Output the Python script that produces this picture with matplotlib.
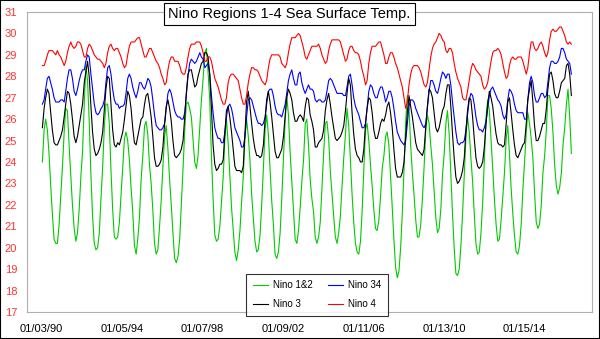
import pandas as pd
import matplotlib
matplotlib.use("Agg")
import matplotlib.pyplot as plt
from matplotlib.patches import Rectangle

plt.rcParams['font.family'] = ['Liberation Sans', 'DejaVu Sans']

# monthly values, Jan 1990 .. May 2016
nino12 = [
    24.0, 25.5, 26.0, 25.5, 24.4, 22.9, 21.6, 20.4, 20.2, 20.2, 21.1, 22.4,
    23.8, 25.4, 26.5, 26.4, 24.8, 23.4, 22.0, 20.9, 20.3, 20.7, 21.8, 23.3,
    24.5, 26.7, 28.5, 27.8, 25.9, 23.4, 21.5, 20.2, 19.9, 20.0, 20.7, 22.3,
    23.8, 25.7, 26.7, 26.7, 25.8, 23.6, 21.8, 20.5, 20.4, 20.5, 21.2, 22.5,
    23.9, 25.1, 25.4, 25.0, 24.1, 22.8, 21.7, 20.1, 19.7, 20.4, 21.4, 23.2,
    24.3, 25.7, 25.9, 25.3, 23.9, 23.0, 21.8, 20.2, 19.7, 19.9, 21.0, 22.2,
    23.8, 25.2, 25.7, 24.6, 23.2, 22.0, 20.7, 19.5, 19.3, 19.6, 20.4, 22.0,
    23.7, 25.5, 26.7, 26.8, 26.5, 26.1, 25.1, 24.0, 23.7, 24.3, 25.6, 26.9,
    27.9, 29.1, 29.3, 28.2, 26.9, 24.3, 22.3, 20.6, 20.3, 20.4, 21.0, 22.1,
    23.3, 25.1, 26.0, 24.9, 23.4, 21.9, 20.9, 19.8, 19.4, 19.9, 20.8, 22.1,
    23.3, 25.2, 26.0, 25.2, 24.1, 22.5, 21.4, 20.3, 19.8, 19.9, 20.6, 22.0,
    23.7, 25.5, 26.2, 25.3, 23.7, 22.2, 21.1, 19.7, 19.5, 19.8, 20.7, 22.3,
    24.2, 25.9, 27.1, 26.2, 24.5, 23.1, 21.7, 20.4, 20.2, 20.8, 21.9, 23.1,
    24.1, 25.8, 26.0, 24.8, 23.2, 22.3, 21.7, 20.5, 20.2, 20.5, 21.2, 22.8,
    24.4, 25.8, 25.9, 25.1, 23.6, 22.5, 21.5, 20.5, 20.2, 20.7, 21.5, 22.9,
    24.2, 25.3, 26.5, 25.7, 24.1, 22.5, 21.2, 20.2, 19.8, 19.7, 20.3, 21.7,
    23.7, 25.5, 25.8, 25.0, 23.9, 22.9, 21.8, 20.9, 20.8, 21.3, 22.4, 23.7,
    24.3, 25.2, 25.4, 24.8, 23.4, 21.9, 20.4, 19.1, 18.6, 18.9, 20.0, 21.6,
    23.6, 25.9, 27.1, 26.5, 24.8, 23.5, 22.5, 21.3, 20.5, 20.5, 21.1, 22.3,
    23.8, 25.5, 26.2, 25.8, 24.8, 23.9, 22.7, 21.4, 20.7, 20.9, 21.8, 23.4,
    24.4, 25.8, 26.4, 25.3, 23.5, 21.6, 20.0, 18.8, 18.7, 19.0, 20.1, 21.6,
    23.4, 25.2, 26.1, 25.4, 24.2, 23.1, 21.6, 20.2, 19.7, 19.8, 20.7, 22.1,
    24.1, 26.1, 26.9, 26.4, 25.1, 23.7, 22.3, 21.1, 20.3, 20.4, 21.3, 22.4,
    23.5, 25.1, 25.7, 24.4, 22.8, 21.6, 20.6, 19.8, 19.7, 20.1, 21.1, 22.7,
    24.0, 25.4, 26.3, 25.8, 25.1, 24.2, 22.6, 21.2, 20.9, 21.1, 22.0, 23.5,
    24.3, 25.5, 27.1, 27.1, 26.5, 25.4, 23.9, 22.9, 22.5, 22.8, 23.5, 24.8,
    25.6, 26.7, 27.4, 26.1, 24.4,
]

nino3 = [
    25.6, 26.5, 27.0, 27.4, 27.2, 26.3, 25.5, 24.9, 24.8, 24.8, 25.0, 25.2,
    25.5, 26.1, 26.7, 27.3, 27.2, 26.7, 26.0, 25.2, 24.9, 25.2, 25.7, 26.2,
    26.7, 27.7, 28.2, 28.7, 28.0, 26.6, 25.4, 24.6, 24.3, 24.4, 24.6, 24.9,
    25.4, 26.5, 27.4, 28.0, 27.9, 26.7, 25.5, 24.8, 24.7, 24.9, 24.8, 25.1,
    25.4, 26.0, 26.6, 27.3, 27.1, 26.5, 25.6, 24.9, 24.8, 25.2, 25.6, 26.0,
    26.1, 26.7, 27.1, 27.2, 26.7, 26.1, 25.2, 24.2, 23.8, 23.8, 23.9, 24.1,
    24.7, 25.8, 26.6, 26.9, 26.5, 25.9, 25.0, 24.3, 24.2, 24.3, 24.4, 24.6,
    25.0, 26.1, 27.2, 28.1, 28.3, 28.3, 27.9, 27.5, 27.6, 28.0, 28.3, 28.6,
    28.7, 29.1, 29.1, 28.9, 28.1, 26.5, 24.8, 23.9, 23.6, 23.7, 23.9, 23.9,
    24.1, 25.4, 26.4, 26.6, 26.1, 25.4, 24.6, 23.8, 23.6, 23.6, 23.6, 23.5,
    23.8, 25.3, 26.8, 27.3, 26.6, 25.8, 25.1, 24.6, 24.3, 24.3, 24.2, 24.3,
    24.8, 26.0, 26.9, 27.3, 26.8, 26.1, 25.3, 24.5, 24.2, 24.2, 24.4, 24.6,
    25.2, 26.2, 27.0, 27.4, 27.2, 26.9, 26.3, 25.9, 25.9, 26.1, 26.2, 26.1,
    25.9, 26.6, 27.0, 26.9, 26.2, 25.9, 25.5, 24.7, 24.7, 24.9, 25.0, 25.1,
    25.5, 26.4, 26.9, 27.2, 26.7, 26.1, 25.6, 25.1, 25.0, 25.1, 25.2, 25.4,
    25.7, 26.4, 27.2, 27.9, 27.6, 26.3, 25.3, 24.6, 24.3, 24.2, 24.0, 24.0,
    24.6, 25.8, 26.5, 27.0, 26.9, 26.3, 25.5, 25.1, 25.1, 25.4, 25.8, 26.0,
    25.9, 26.2, 26.6, 26.8, 26.3, 25.6, 24.6, 23.7, 23.3, 23.3, 23.3, 23.5,
    24.0, 25.2, 26.3, 27.1, 26.6, 26.1, 25.5, 24.9, 24.6, 24.5, 24.4, 24.3,
    24.6, 25.7, 26.6, 27.4, 27.3, 27.0, 26.3, 25.6, 25.4, 25.6, 26.0, 26.4,
    26.6, 27.2, 27.6, 27.6, 26.6, 25.3, 24.2, 23.3, 23.0, 23.1, 23.3, 23.6,
    24.2, 25.5, 26.4, 27.0, 26.9, 26.1, 25.1, 24.2, 23.8, 23.7, 23.8, 24.0,
    24.7, 25.8, 26.7, 27.3, 27.0, 26.6, 25.9, 25.3, 24.9, 24.8, 24.8, 24.7,
    24.8, 25.8, 26.8, 27.0, 26.3, 25.5, 24.8, 24.3, 24.2, 24.4, 24.6, 24.8,
    24.9, 25.8, 26.9, 27.4, 27.8, 26.8, 25.7, 25.0, 25.0, 25.2, 25.5, 25.8,
    25.8, 26.5, 27.4, 28.1, 28.2, 27.8, 27.2, 27.0, 27.0, 27.3, 27.7, 27.8,
    27.9, 28.5, 28.6, 28.1, 27.1,
]

nino34 = [
    26.7, 26.9, 27.4, 27.9, 28.0, 27.7, 27.4, 27.0, 26.8, 26.8, 26.8, 26.9,
    26.9, 26.8, 27.3, 27.9, 28.3, 28.3, 27.9, 27.3, 27.1, 27.4, 27.8, 28.1,
    28.3, 28.3, 28.7, 29.0, 28.9, 28.1, 27.4, 26.7, 26.3, 26.2, 26.3, 26.5,
    26.6, 26.9, 27.7, 28.4, 28.5, 28.1, 27.4, 26.9, 26.7, 26.7, 26.5, 26.6,
    26.6, 26.7, 27.2, 27.9, 28.1, 27.9, 27.5, 27.2, 27.0, 27.3, 27.7, 27.7,
    27.5, 27.4, 27.6, 27.9, 27.8, 27.5, 26.9, 26.2, 25.7, 25.6, 25.5, 25.5,
    25.6, 25.8, 26.5, 27.2, 27.4, 27.2, 26.8, 26.4, 26.2, 26.1, 26.1, 26.0,
    26.0, 26.3, 27.1, 28.0, 28.6, 28.8, 28.7, 28.6, 28.7, 28.9, 29.1, 28.9,
    28.8, 28.4, 28.5, 28.6, 28.1, 27.1, 26.3, 25.6, 25.3, 25.1, 25.1, 24.9,
    24.9, 25.4, 26.1, 26.6, 26.7, 26.5, 26.1, 25.6, 25.4, 25.2, 25.0, 24.7,
    24.7, 25.2, 26.1, 26.9, 27.0, 26.9, 26.6, 26.3, 26.0, 25.8, 25.8, 25.7,
    25.8, 26.1, 26.7, 27.3, 27.4, 27.4, 27.1, 26.6, 26.3, 26.2, 26.2, 26.1,
    26.4, 26.7, 27.2, 27.8, 28.1, 28.3, 27.9, 27.6, 27.6, 28.1, 28.2, 27.7,
    27.4, 27.2, 27.4, 27.6, 27.4, 27.4, 27.3, 26.9, 26.8, 26.9, 26.9, 26.8,
    26.8, 26.9, 27.3, 27.8, 27.9, 27.8, 27.6, 27.4, 27.2, 27.2, 27.2, 27.2,
    27.1, 27.1, 27.5, 28.0, 28.1, 27.6, 27.0, 26.6, 26.4, 26.2, 25.9, 25.6,
    25.6, 25.8, 26.5, 27.3, 27.6, 27.5, 27.2, 27.0, 27.0, 27.3, 27.5, 27.5,
    27.2, 26.8, 27.0, 27.3, 27.3, 27.0, 26.5, 25.9, 25.4, 25.2, 25.0, 24.9,
    24.8, 25.0, 25.8, 26.6, 26.9, 26.9, 26.8, 26.5, 26.3, 26.1, 25.9, 25.7,
    25.6, 25.8, 26.5, 27.3, 27.8, 27.8, 27.6, 27.3, 27.2, 27.5, 27.9, 28.2,
    28.1, 27.9, 28.1, 28.1, 27.6, 26.8, 26.1, 25.4, 24.9, 24.8, 24.9, 24.9,
    25.0, 25.5, 26.2, 26.9, 27.2, 27.1, 26.7, 26.1, 25.7, 25.5, 25.5, 25.4,
    25.6, 25.9, 26.5, 27.1, 27.4, 27.5, 27.3, 27.1, 26.9, 26.8, 26.6, 26.2,
    26.0, 26.2, 26.9, 27.4, 27.3, 27.1, 26.7, 26.4, 26.3, 26.3, 26.3, 26.3,
    26.0, 26.0, 26.9, 27.7, 28.0, 27.7, 27.1, 26.8, 26.8, 27.0, 27.2, 27.2,
    27.0, 27.1, 27.7, 28.4, 28.7, 28.7, 28.6, 28.6, 28.7, 28.9, 29.3, 29.3,
    29.1, 28.8, 28.7, 28.6, 28.1,
]

nino4 = [
    28.5, 28.5, 28.7, 29.0, 29.2, 29.2, 29.2, 29.1, 29.0, 29.2, 29.0, 28.9,
    28.7, 28.5, 28.7, 29.1, 29.4, 29.6, 29.4, 29.3, 29.4, 29.6, 29.6, 29.5,
    29.2, 28.9, 28.9, 29.3, 29.5, 29.4, 29.2, 29.0, 28.9, 28.8, 28.8, 28.7,
    28.6, 28.4, 28.6, 29.1, 29.4, 29.5, 29.3, 29.2, 29.3, 29.3, 29.1, 28.9,
    28.6, 28.4, 28.5, 29.0, 29.4, 29.6, 29.6, 29.6, 29.7, 29.8, 29.8, 29.5,
    29.2, 28.9, 28.9, 29.1, 29.3, 29.3, 29.1, 28.9, 28.7, 28.6, 28.4, 28.1,
    27.9, 27.6, 27.7, 28.3, 28.7, 28.9, 28.9, 28.7, 28.7, 28.7, 28.5, 28.2,
    28.1, 28.1, 28.4, 28.9, 29.3, 29.5, 29.5, 29.5, 29.6, 29.6, 29.6, 29.4,
    29.1, 28.7, 28.7, 28.9, 28.9, 28.7, 28.3, 27.9, 27.7, 27.5, 27.2, 26.9,
    26.7, 26.7, 27.0, 27.7, 28.0, 28.1, 28.1, 28.0, 27.9, 27.8, 27.4, 27.0,
    26.7, 26.7, 27.1, 27.7, 28.1, 28.4, 28.4, 28.3, 28.3, 28.2, 28.0, 27.8,
    27.7, 27.6, 27.8, 28.4, 28.8, 29.0, 29.0, 29.0, 29.0, 29.0, 28.9, 28.6,
    28.5, 28.4, 28.6, 29.1, 29.5, 29.8, 29.8, 29.8, 29.9, 30.0, 29.9, 29.6,
    29.3, 28.9, 28.8, 29.0, 29.2, 29.4, 29.4, 29.4, 29.4, 29.5, 29.3, 29.0,
    28.8, 28.6, 28.7, 29.2, 29.5, 29.7, 29.7, 29.7, 29.7, 29.7, 29.6, 29.3,
    29.0, 28.7, 28.8, 29.2, 29.4, 29.4, 29.2, 29.1, 29.1, 29.0, 28.7, 28.3,
    28.0, 27.6, 27.8, 28.6, 29.1, 29.4, 29.4, 29.4, 29.5, 29.6, 29.6, 29.3,
    29.0, 28.6, 28.6, 28.9, 29.1, 29.1, 28.9, 28.6, 28.4, 28.1, 27.8, 27.5,
    27.0, 26.5, 26.8, 27.6, 28.1, 28.4, 28.5, 28.5, 28.5, 28.4, 28.2, 27.9,
    27.6, 27.5, 27.7, 28.3, 28.9, 29.3, 29.5, 29.6, 29.8, 30.0, 29.9, 29.7,
    29.6, 29.2, 29.1, 29.3, 29.3, 29.1, 28.6, 28.2, 27.9, 27.7, 27.5, 27.0,
    26.9, 26.9, 27.3, 27.8, 28.3, 28.6, 28.5, 28.3, 28.2, 28.1, 28.0, 27.6,
    27.4, 27.5, 27.7, 28.2, 28.7, 29.1, 29.2, 29.2, 29.3, 29.2, 29.0, 28.6,
    28.2, 27.9, 28.0, 28.5, 28.8, 28.9, 28.8, 28.8, 28.9, 28.9, 28.9, 28.7,
    28.4, 28.1, 28.4, 29.1, 29.6, 29.6, 29.3, 29.2, 29.3, 29.5, 29.6, 29.4,
    29.1, 28.9, 29.1, 29.7, 30.1, 30.2, 30.1, 30.1, 30.2, 30.3, 30.3, 30.1,
    29.9, 29.6, 29.5, 29.6, 29.5,
]

tick_labels = ["01/03/90", "01/05/94", "01/07/98", "01/09/02",
               "01/11/06", "01/13/10", "01/15/14"]

dates = pd.date_range("1990-01-01", periods=len(nino12), freq="MS") + pd.Timedelta(days=14)
tick_dates = pd.to_datetime(tick_labels, format="%m/%d/%y")

fig = plt.figure(figsize=(6, 3.39), dpi=100)
ax = fig.add_axes([27 / 600, 1 - 312 / 339, 565 / 600, 300 / 339])

l12, = ax.plot(dates, nino12, color="#00cc00", lw=0.8, label="Nino 1&2")
l34, = ax.plot(dates, nino34, color="#0000ff", lw=0.8, label="Nino 34")
l3, = ax.plot(dates, nino3, color="black", lw=0.8, label="Nino 3")
l4, = ax.plot(dates, nino4, color="#ff0000", lw=0.8, label="Nino 4")

ax.set_ylim(17, 31)
ax.set_yticks(range(17, 32))
ax.set_xlim(pd.Timestamp("1989-04-10"), pd.Timestamp("2017-05-25"))
ax.set_xticks(tick_dates)
ax.set_xticklabels(tick_labels)
ax.tick_params(axis="y", length=0, pad=7, labelsize=8, labelcolor="#ff3333")
ax.tick_params(axis="x", length=0, pad=9, labelsize=8)
for s in ax.spines.values():
    s.set_color("#b0b0b0")
    s.set_linewidth(0.8)

leg = fig.legend(handles=[l12, l3, l34, l4], ncol=2, fontsize=7,
                 loc="lower left", bbox_to_anchor=(246 / 600, 1 - 316 / 339),
                 frameon=True, fancybox=False, handlelength=1.6,
                 handletextpad=0.5, columnspacing=1.5, borderpad=0.7,
                 labelspacing=0.9, borderaxespad=0)
leg.get_frame().set_edgecolor("black")
leg.get_frame().set_linewidth(0.8)

fig.text(289 / 600, 1 - 14 / 339, "Nino Regions 1-4 Sea Surface Temp.",
         ha="center", va="center", fontsize=10.5,
         bbox=dict(boxstyle="square,pad=0.3", fc="white", ec="black", lw=0.8))

fig.patches.append(Rectangle((0, 0), 1, 1, transform=fig.transFigure,
                             fill=False, ec="black", lw=1.5))

fig.savefig("out.png", dpi=100)
